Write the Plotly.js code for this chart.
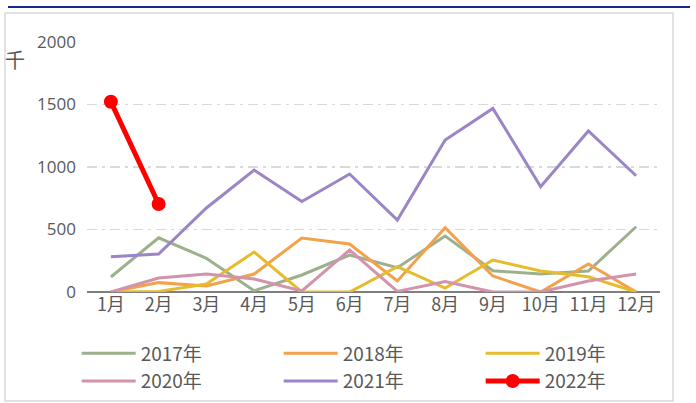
<!DOCTYPE html>
<html><head><meta charset="utf-8">
<script src="https://cdn.plot.ly/plotly-3.0.1.min.js"></script>
<style>html,body{margin:0;padding:0;background:#fff;}#chart{width:696px;height:403px;}</style>
</head><body><div id="chart"></div>
<script>
const months = ["1月","2月","3月","4月","5月","6月","7月","8月","9月","10月","11月","12月"];
const y2017 = [120,434,270,10,136,296,194,448,170,144,168,522];
const y2018 = [0,75,48,144,432,384,88,514,128,0,224,0];
const y2019 = [0,5,64,320,0,0,202,32,256,168,122,0];
const y2020 = [0,112,144,104,8,336,5,83,0,0,88,144];
const y2021 = [283,304,672,976,724,944,576,1216,1469,842,1288,930];
const y2022 = [1522,704];
const names = ["2017年","2018年","2019年","2020年","2021年","2022年"];
const colors = ["#9DB08D","#F2A24A","#E6BC2C","#D393AB","#9B85C6","#FF0000"];

const series = [y2017,y2018,y2019,y2020,y2021];
const traces = series.map((s,i)=>({
  x: months, y: s, name: names[i], type:'scatter', mode:'lines',
  line:{color:colors[i], width:3}
}));
traces.push({x: months.slice(0,y2022.length), y:y2022, name:names[5], type:'scatter', mode:'lines+markers',
  line:{color:colors[5], width:5}, marker:{color:colors[5], size:14}});

const layout = {
  width:696, height:403,
  margin:{l:87, r:36, t:42, b:111, autoexpand:false},
  paper_bgcolor:'#fff', plot_bgcolor:'#fff',
  font:{family:'"Open Sans", "Noto Sans CJK SC", sans-serif', color:'#595959'},
  showlegend:true,
  legend:{orientation:'h', x:-0.018, xanchor:'left', y:-0.17, yanchor:'top', bgcolor:'rgba(0,0,0,0)',
    entrywidth:133, entrywidthmode:'pixels', itemwidth:54, tracegroupgap:0,
    font:{size:19, color:'#595959', family:'"Noto Sans CJK SC", sans-serif'}},
  xaxis:{type:'category', range:[-0.5,11.5], showgrid:false, zeroline:false, showline:false,
    ticks:'', tickfont:{size:18, color:'#595959', family:'"Noto Sans CJK SC", sans-serif'}, fixedrange:true},
  yaxis:{range:[0,2000], dtick:500, showgrid:true, gridcolor:'#D9D9D9', griddash:'10px,5px,3px,5px', gridwidth:1.3,
    zeroline:true, zerolinecolor:'#7F7F7F', zerolinewidth:2, showline:false, ticks:'',
    ticklabelstandoff:10,
    tickfont:{size:17, color:'#595959'}},
  annotations:[{text:'千', xref:'paper', yref:'paper', x:(15-87)/573, y:(292-60)/250, xanchor:'center', yanchor:'middle',
    showarrow:false, font:{size:20, color:'#595959', family:'"Noto Sans CJK SC", sans-serif'}}],
  shapes:[
    {type:'rect', xref:'paper', yref:'paper', x0:(5-87)/573, x1:(673-87)/573, y0:(292-401)/250, y1:(292-13)/250,
      line:{color:'#D9D9D9', width:1.5}, fillcolor:'rgba(0,0,0,0)', layer:'below'},
    {type:'line', xref:'paper', yref:'paper', x0:(8-87)/573, x1:(690-87)/573, y0:(292-7)/250, y1:(292-7)/250,
      line:{color:'#1A2A8C', width:2}}
  ]
};
Plotly.newPlot('chart', traces, layout, {staticPlot:true});
</script></body></html>
